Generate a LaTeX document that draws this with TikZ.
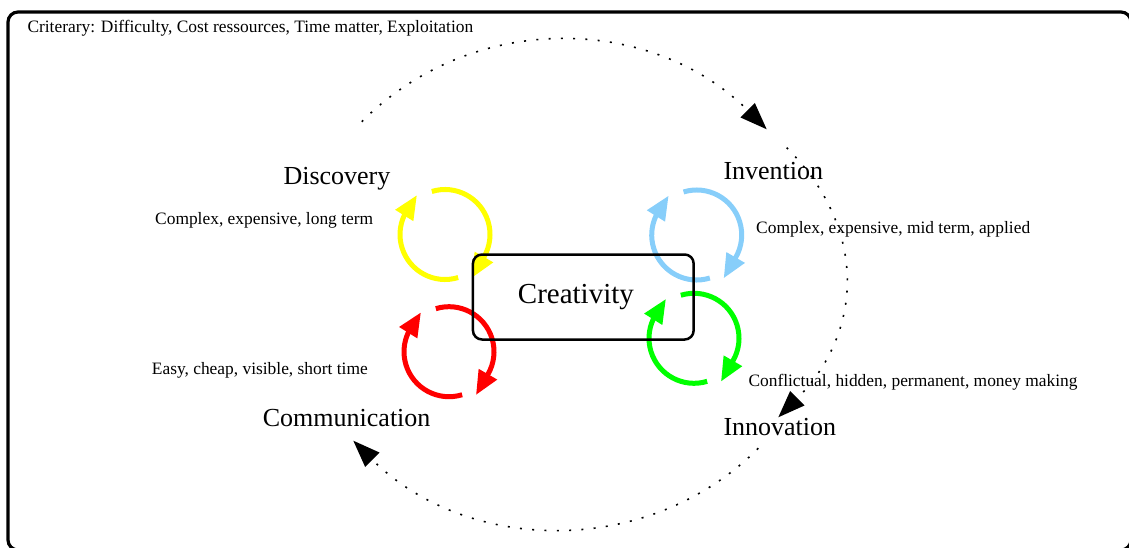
\documentclass[tikz,border=0pt]{standalone}
\usepackage{fontspec}
\setmainfont{Liberation Serif}
\usetikzlibrary{arrows.meta}
\definecolor{loopyellow}{RGB}{255,255,0}
\definecolor{loopred}{RGB}{255,0,0}
\definecolor{loopgreen}{RGB}{0,255,0}
\definecolor{loopblue}{RGB}{135,206,250}
\tikzset{
  small/.style={anchor=base west,inner sep=0pt,font=\fontsize{17.4}{20}\selectfont},
  big/.style={anchor=base west,inner sep=0pt,font=\fontsize{26}{30}\selectfont},
  huge/.style={anchor=base west,inner sep=0pt,font=\fontsize{29}{33}\selectfont},
  cycline/.style={line width=5pt,-{Triangle[length=24pt,width=20pt]}},
  cyc/.pic={
    \draw[cycline] (107:45) arc[start angle=107,end angle=-30,radius=45] -- ++(-120:24);
    \draw[cycline] (-73:45) arc[start angle=-73,end angle=-205,radius=45] -- ++(58:24);
  },
  orbit/.style={line width=1.6pt,dash pattern=on 2pt off 10.3pt,-{Triangle[length=27pt,width=20pt]}},
  framebox/.style={line width=3.2pt,rounded corners=10pt},
  creabox/.style={draw,line width=2.5pt,rounded corners=9pt,minimum width=220.7pt,minimum height=85pt,inner sep=0pt}
}
\begin{document}
\begin{tikzpicture}[x=1pt,y=1pt]
\useasboundingbox (0,0) rectangle (1129,547);
\draw[framebox] (8,535) rectangle (1131,-3);

% loop centres
\coordinate (ly) at (445,312.5);
\coordinate (lr) at (449,195.3);
\coordinate (lb) at (696.7,312);
\coordinate (lg) at (694,208.7);
\pic[color=loopyellow] at (ly) {cyc};
\pic[color=loopred] at (lr) {cyc};
\pic[color=loopblue] at (lb) {cyc};
\pic[color=loopgreen] at (lg) {cyc};

% central box
\node[creabox] (crea) at (583.3,250) {};
\node[huge] (creatxt) at (517.7,243.7) {Creativity};

% labels
\node[small] (crit) at (27.3,514.7) {Criterary: Difficulty, Cost ressources, Time matter, Exploitation};
\node[big] (disc) at (283.3,362) {Discovery};
\node[small] (discl) at (155,322.7) {Complex, expensive, long term};
\node[big] (inv) at (723.3,367.7) {Invention};
\node[small] (invl) at (756,313.7) {Complex, expensive, mid term, applied};
\node[small] (innol) at (748.3,160.3) {Conflictual, hidden, permanent, money making};
\node[big] (inno) at (723.3,112) {Innovation};
\node[small] (comml) at (151.7,172.7) {Easy, cheap, visible, short time};
\node[big] (comm) at (262.7,121) {Communication};

% orbit end points
\coordinate (ta) at (361.7,425.3);
\coordinate (tb) at (766.7,417.7);
\coordinate (ra) at (786.7,399.3);
\coordinate (rb) at (778.3,129.7);
\coordinate (ba) at (758.3,98.7);
\coordinate (bb) at (353.3,106.3);
\draw[orbit] (ta) .. controls (474.7,538.3) and (653.7,530.7) .. (tb);
\draw[orbit] (ra) .. controls (870,316) and (861.6,213) .. (rb);
\draw[orbit] (ba) .. controls (646.6,-13) and (465,-5.4) .. (bb);
\end{tikzpicture}
\end{document}
